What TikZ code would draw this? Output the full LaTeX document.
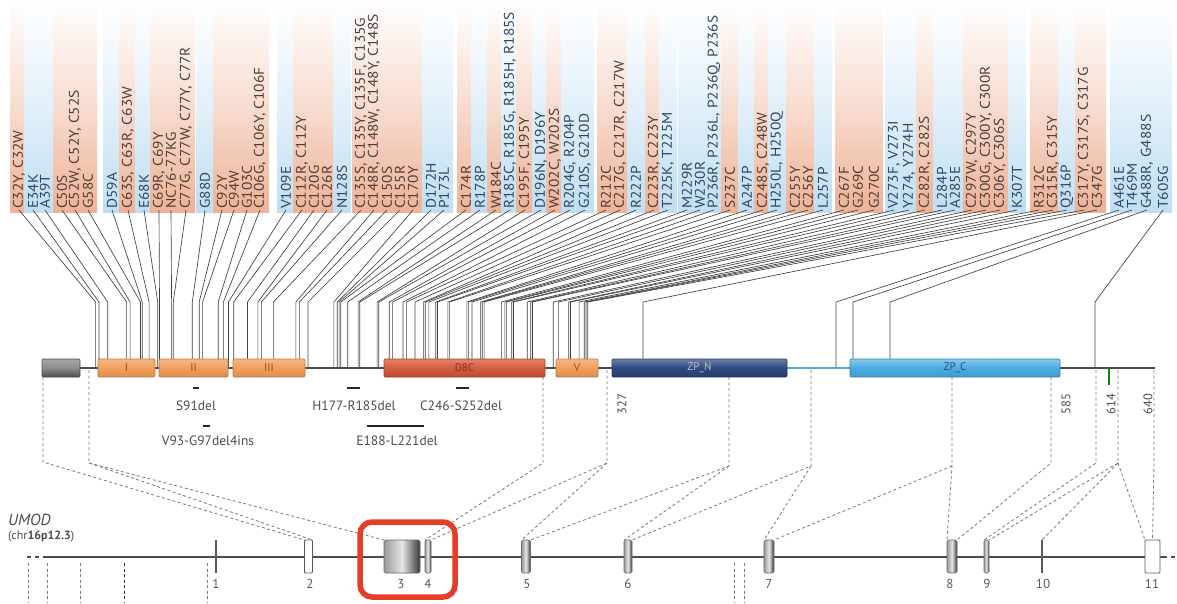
\documentclass[tikz,border=0pt]{standalone}
\usepackage{fontspec}
\setmainfont{PT Sans}
\newfontfamily\labfont[FakeStretch=1.1]{PT Sans}
\usetikzlibrary{calc}
\definecolor{stripo}{RGB}{238,178,150}
\definecolor{stripb}{RGB}{192,222,242}
\definecolor{texto}{RGB}{80,62,56}
\definecolor{textb}{RGB}{44,72,102}
\definecolor{egf}{RGB}{240,160,92}
\definecolor{egfd}{RGB}{196,118,58}
\definecolor{dac}{RGB}{214,92,62}
\definecolor{dacd}{RGB}{168,60,40}
\definecolor{zpn}{RGB}{44,74,128}
\definecolor{zpc}{RGB}{72,172,226}
\definecolor{rbox}{RGB}{228,62,40}
\definecolor{dsh}{RGB}{120,120,120}
\begin{document}
\def\muts{1/19/95.6/o/{C32Y, C32W}, 2/33/99/b/{E34K}, 3/45/107.7/b/{A39T}, 4/62/126.6/o/{C50S},
5/75/130.1/o/{C52W, C52Y, C52S}, 6/88/140.5/o/{G58C}, 7/112/142.2/b/{D59A}, 8/128/149.1/o/{C63S, C63R, C63W},
9/144/157.7/b/{E68K}, 10/159/159.5/o/{C69R, C69Y}, 11/171/171.6/o/{NC76-77KG}, 12/186/173.3/o/{C77G, C77W, C77Y, C77R},
13/205/192.3/b/{G88D}, 14/222/199.2/o/{C92Y}, 15/234/202.6/o/{C94W}, 16/247/218.2/o/{G103C},
17/260/223.4/o/{C106G, C106Y, C106F}, 18/286/228.5/b/{V109E}, 19/302/233.7/o/{C112R, C112Y}, 20/314/247.5/o/{C120G},
21/327/257.9/o/{C126R}, 22/342/261.4/b/{N128S}, 23/361/273.4/o/{C135S, C135Y, C135F, C135G}, 24/374/295.9/o/{C148R, C148W, C148Y, C148S},
25/387/299.4/o/{C150S}, 26/400/308/o/{C155R}, 27/413/333.9/o/{C170Y}, 28/431/337.3/b/{D172H},
29/444/339.1/b/{P173L}, 30/466/340.8/o/{C174R}, 31/480/347.7/b/{R178P}, 32/496/358.1/o/{W184C},
33/510/359.8/b/{R185C, R185G, R185H, R185S}, 34/525/377.1/o/{C195F, C195Y}, 35/541/378.8/b/{D196N, D196Y}, 36/555/389.2/o/{W202C, W202S},
37/570/392.6/b/{R204G, R204P}, 38/585/403/b/{G210S, G210D}, 39/606/406.4/o/{R212C}, 40/620/415/o/{C217G, C217R, C217W},
41/636/423.7/b/{R222P}, 42/654/425.4/o/{C223R, C223Y}, 43/668/428.9/b/{T225K, T225M}, 44/687/435.8/b/{M229R},
45/700/437.5/b/{W230R}, 46/714/447.9/b/{P236R, P236L, P236Q, P236S}, 47/730/449.6/o/{S237C}, 48/747/466.9/b/{A247P},
49/763/468.6/o/{C248S, C248W}, 50/777/472/b/{H250L, H250Q}, 51/795/480.7/o/{C255Y}, 52/808/482.4/o/{C256Y},
53/823/484.1/b/{L257P}, 54/844/501.4/o/{C267F}, 55/858/504.9/o/{G269C}, 56/874/506.6/o/{G270C},
57/894/511.8/b/{V273F, V273I}, 58/909/513.5/b/{Y274, Y274H}, 59/925/527.3/o/{C282R, C282S}, 60/942/530.8/b/{L284P},
61/955/532.5/b/{A285E}, 62/972/553.2/o/{C297W, C297Y}, 63/986/558.4/o/{C300G, C300Y, C300R}, 64/1000/568.8/o/{C306Y, C306S},
65/1017/570.5/b/{K307T}, 66/1039/579.1/o/{R312C}, 67/1053/584.3/o/{C315R, C315Y}, 68/1067/586/b/{Q316P},
69/1084/587.8/o/{C317Y, C317S, C317G}, 70/1097/643/o/{C347G}, 71/1119/836/b/{A461E}, 72/1132/853/b/{T469M},
73/1147/890/b/{G488R, G488S}, 74/1163/1095/b/{T605G}}
\begin{tikzpicture}[x=1pt,y=-1pt,
  lab/.style={rotate=90,anchor=west,inner sep=1pt,font=\labfont\fontsize{14}{14}\selectfont},
  conn/.style={draw=black!75,line width=0.65pt},
  pline/.style={draw=black!70,line width=1.4pt},
  pbox/.style={rounded corners=1.2pt,line width=0.7pt,minimum height=18pt,inner sep=0pt,outer sep=0pt,font=\fontsize{11}{11}\selectfont},
  dl/.style={draw=dsh,line width=0.8pt,dash pattern=on 3pt off 2.5pt},
  delbar/.style={draw=black!85,line width=2.2pt},
  dellab/.style={font=\fontsize{13.5}{13.5}\selectfont,text=black!70,inner sep=0pt},
  numlab/.style={rotate=90,font=\fontsize{12.5}{12.5}\selectfont,text=black!70,inner sep=0pt},
  exon/.style={draw=black!60,line width=0.6pt,left color=black!40,right color=black!78,middle color=black!10,rounded corners=1.5pt,inner sep=0pt,outer sep=0pt,minimum height=33pt},
  exonw/.style={draw=black!65,line width=0.8pt,fill=white,rounded corners=1pt,inner sep=0pt,outer sep=0pt,minimum height=33pt},
  exonl/.style={fill=black!65,inner sep=0pt,outer sep=0pt,minimum width=1.8pt,minimum height=33pt},
  exnum/.style={font=\fontsize{13}{13}\selectfont,text=black!65,inner sep=0pt},
  gline/.style={draw=black!70,line width=1.3pt}]
\useasboundingbox (0,0) rectangle (1177,603);
% strips
\foreach \i/\x/\p/\c/\t in \muts {
  \shade[top color=white,bottom color=strip\c,middle color=strip\c!45] (\x-9,0) rectangle (\x+9,212);
}
% labels and connectors
\foreach \i/\x/\p/\c/\t in \muts {
  \node[lab,text=text\c] (L\i) at (\x,210) {\t};
  \draw[conn] (L\i.west) -- (\p,302) -- (\p,368);
}
% protein backbone
\draw[pline] (42,368) -- (1155,368);
\draw[draw=zpc,line width=1.4pt] (787,368) -- (850,368);
% domains
\node[pbox,draw=black!70,top color=black!35,bottom color=black!70,middle color=black!45,minimum width=38pt] (sig) at (61,368) {};
\node[pbox,draw=egfd,top color=egf!75!white,bottom color=egf!90!black,middle color=egf,minimum width=57pt,text=egfd!70!black] (egfI) at (126.5,368) {I};
\node[pbox,draw=egfd,top color=egf!75!white,bottom color=egf!90!black,middle color=egf,minimum width=69pt,text=egfd!70!black] (egfII) at (193.5,368) {II};
\node[pbox,draw=egfd,top color=egf!75!white,bottom color=egf!90!black,middle color=egf,minimum width=72pt,text=egfd!70!black] (egfIII) at (269,368) {III};
\node[pbox,draw=dacd,top color=dac!75!white,bottom color=dac!85!black,middle color=dac,minimum width=161pt,text=dacd!80!black] (d8c) at (464.5,368) {D8C};
\node[pbox,draw=egfd,top color=egf!75!white,bottom color=egf!90!black,middle color=egf,minimum width=42pt,text=egfd!70!black] (dv) at (577,368) {V};
\node[pbox,draw=zpn!80!black,top color=zpn!70!white,bottom color=zpn!85!black,middle color=zpn,minimum width=175pt,text=black!25!white] (zpnb) at (699.5,368) {ZP\_N};
\node[pbox,draw=zpc!75!black,top color=zpc!65!white,bottom color=zpc!90!black,middle color=zpc,minimum width=210pt,text=zpn] (zpcb) at (955,368) {ZP\_C};
% GPI tick
\draw[draw=green!55!black,line width=1.3pt] (1109,369) -- (1109,385);
% position numbers
\node[numlab] (n327) at (622,404) {327};
\node[numlab] (n585) at (1066,404) {585};
\node[numlab] (n614) at (1111,404) {614};
\node[numlab] (n640) at (1148,404) {640};
% deletions
\draw[delbar] (193,388) -- (199,388); \node[dellab] (s91) at (196,406) {S91del};
\draw[delbar] (203,426) -- (210,426); \node[dellab] (v93) at (208,441) {V93-G97del4ins};
\draw[delbar] (347,388) -- (360,388); \node[dellab] (h177) at (354,406) {H177-R185del};
\draw[delbar] (456,388) -- (469,388); \node[dellab] (c246) at (461,406) {C246-S252del};
\draw[delbar] (367,426) -- (424,426); \node[dellab] (e188) at (397,441) {E188-L221del};
% gene
\draw[gline] (47,557) -- (1163,557);
\draw[gline,dash pattern=on 4pt off 4pt] (27,557) -- (47,557);
\draw[gline,dash pattern=on 4pt off 4pt] (1163,557) -- (1177,557);
\foreach \xx in {28,47,80,207,734,744} {\draw[dl] (\xx,563) -- (\xx,603);}
\draw[dl,draw=black!80,line width=1pt] (124,563) -- (124,603);
\node[anchor=west,inner sep=0pt,font=\fontsize{16}{16}\selectfont\itshape,text=black!70] (umod) at (8,520) {UMOD};
\node[anchor=west,inner sep=0pt,font=\fontsize{12}{12}\selectfont,text=black!70] (chr) at (8,537) {(chr\textbf{16p12.3})};
% exons
\node[exonl] (e1) at (216,556.5) {};
\node[exonw,minimum width=8pt] (e2) at (308.5,556.5) {};
\node[exon,minimum width=36pt] (e3) at (402,556.5) {};
\node[exon,minimum width=6pt] (e4) at (428,556.5) {};
\node[exon,minimum width=9pt] (e5) at (526,556.5) {};
\node[exon,minimum width=8pt] (e6) at (628,556.5) {};
\node[exon,minimum width=10pt] (e7) at (769,556.5) {};
\node[exon,minimum width=10pt] (e8) at (952,556.5) {};
\node[exon,minimum width=5pt] (e9) at (986.5,556.5) {};
\node[exonl] (e10) at (1042,556.5) {};
\node[exonw,minimum width=15pt] (e11) at (1152.5,556.5) {};
\node[exnum] (x1) at (216,584) {1};
\node[exnum] (x2) at (310,584) {2};
\node[exnum] (x3) at (401,584) {3};
\node[exnum] (x4) at (428,584) {4};
\node[exnum] (x5) at (527,584) {5};
\node[exnum] (x6) at (628,584) {6};
\node[exnum] (x7) at (769,584) {7};
\node[exnum] (x8) at (950,584) {8};
\node[exnum] (x9) at (987,584) {9};
\node[exnum] (x10) at (1043,584) {10};
\node[exnum] (x11) at (1152,584) {11};
% dashed mapping
\coordinate (k1) at (43,462); \coordinate (k2) at (89,463); \coordinate (k3) at (543,463);
\coordinate (k4) at (607,463); \coordinate (k5) at (729,466); \coordinate (k6) at (811,466);
\coordinate (k7) at (952,466); \coordinate (k8) at (1051,463); \coordinate (k9) at (1096,463);
\coordinate (k10) at (1118,463); \coordinate (k11) at (1154,463);
\draw[dl] (43,377) -- (k1) -- (e2.north west);
\draw[dl] (89,370) -- (k2) -- (e2.north east);
\draw[dl] (k2) -- (e3.north west);
\draw[dl] (543,377) -- (k3) -- (e4.north west);
\draw[dl] (607,370) -- (k4) -- (e4.north east);
\draw[dl] (k4) -- (e5.north west);
\draw[dl] (729,377) -- (k5) -- (e5.north east);
\draw[dl] (k5) -- (e6.north west);
\draw[dl] (811,370) -- (k6) -- (e6.north east);
\draw[dl] (k6) -- (e7.north west);
\draw[dl] (952,377) -- (k7) -- (e8.north west);
\draw[dl] (k7) -- (e7.north east);
\draw[dl] (1051,377) -- (k8) -- (e8.north east);
\draw[dl] (1096,370) -- (k9) -- (e9.north west);
\draw[dl] (1118,370) -- (k10) -- (e9.north east);
\draw[dl] (k10) -- (e10.north);
\draw[dl] (k10) -- (e11.north west);
\draw[dl] (1154,370) -- (k11) -- (e11.north);
% highlight
\node[draw=rbox,line width=5.5pt,rounded corners=12pt,minimum width=95pt,minimum height=75pt,inner sep=0pt] (hl) at (407.5,559.5) {};
\end{tikzpicture}
\end{document}
